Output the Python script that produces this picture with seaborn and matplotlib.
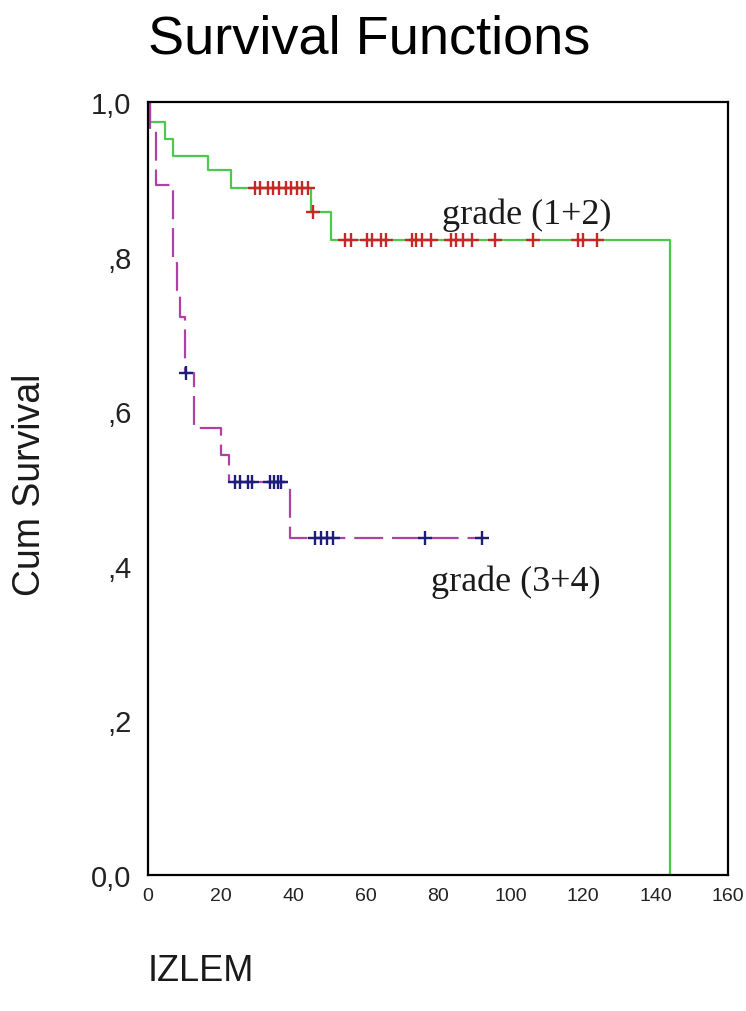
import numpy as np
import pandas as pd
import matplotlib
matplotlib.use("Agg")
import matplotlib.pyplot as plt
import seaborn as sns

# ---- data ----
# grade (1+2): step curve (time, cumulative survival) and censored times
g12_time = [0, 0.5, 4.7, 7.0, 16.5, 23.0, 45.0, 50.5, 144.0]
g12_surv = [1.0, 0.974, 0.952, 0.930, 0.912, 0.889, 0.858, 0.822, 0.0]
g12_cens = [29.5, 31.0, 33.0, 34.5, 36.0, 38.0, 39.5, 41.0, 42.5, 44.0,
            45.4,
            54.3, 55.9, 60.5, 61.7, 64.4, 65.6, 72.7, 73.9, 75.5, 78.1,
            83.5, 85.1, 87.0, 89.5, 95.7, 106.3, 118.7, 120.1, 123.8]

# grade (3+4)
g34_time = [0, 0.5, 2.2, 7.0, 7.9, 8.8, 10.2, 12.8, 20.1, 22.3, 39.2, 92.0]
g34_surv = [1.0, 0.963, 0.892, 0.792, 0.757, 0.722, 0.650, 0.578, 0.543,
            0.508, 0.436, 0.436]
g34_cens = [10.6, 24.0, 25.4, 27.7, 28.8, 33.7, 34.8, 35.9, 36.8,
            46.1, 47.6, 49.3, 50.9, 76.4, 92.0]

x_ticks = [0, 20, 40, 60, 80, 100, 120, 140, 160]
y_ticks = [0.0, 0.2, 0.4, 0.6, 0.8, 1.0]
y_labels = ["0,0", ",2", ",4", ",6", ",8", "1,0"]
title = "Survival Functions"
x_label = "IZLEM"
y_label = "Cum Survival"
label12 = "grade (1+2)"
label34 = "grade (3+4)"


def level_at(times, surv, t):
    idx = np.searchsorted(times, t, side="right") - 1
    return [surv[i] for i in idx]


sns.set_style("white")
plt.rcParams["font.family"] = ["Liberation Sans", "DejaVu Sans"]
plt.rcParams["text.color"] = "black"

fig = plt.figure(figsize=(7.46, 10.12), dpi=100)
ax = fig.add_axes([148 / 746, 1 - 876 / 1012, 580 / 746, 773 / 1012])

df12 = pd.DataFrame({"t": g12_time, "s": g12_surv})
df34 = pd.DataFrame({"t": g34_time, "s": g34_surv})
c12 = pd.DataFrame({"t": g12_cens, "s": level_at(g12_time, g12_surv, g12_cens)})
c34 = pd.DataFrame({"t": g34_cens, "s": level_at(g34_time, g34_surv, g34_cens)})

sns.lineplot(data=df12, x="t", y="s", ax=ax, estimator=None, sort=False,
             drawstyle="steps-post", color="#4cc94c", linewidth=1.6)
sns.lineplot(data=df34, x="t", y="s", ax=ax, estimator=None, sort=False,
             drawstyle="steps-post", color="#b040a8", linewidth=1.6,
             dashes=False, linestyle=(0, (13, 4)))
sns.scatterplot(data=c12, x="t", y="s", ax=ax, marker="+", s=115,
                color="#c62828", linewidth=1.7, zorder=5)
sns.scatterplot(data=c34, x="t", y="s", ax=ax, marker="+", s=115,
                color="#1e1e7a", linewidth=1.7, zorder=5)

ax.set_xlim(0, 160)
ax.set_ylim(0, 1.0)
ax.set_xticks(x_ticks)
ax.set_xticklabels([str(v) for v in x_ticks],
                   family=["Liberation Sans Narrow", "Liberation Sans", "DejaVu Sans"],
                   fontsize=14)
ax.set_yticks(y_ticks)
ax.set_yticklabels(y_labels, fontsize=21)
ax.tick_params(axis="y", direction="out", length=7, width=1.3, pad=5,
               colors="black", labelcolor="#222222")
ax.tick_params(axis="x", direction="out", length=3, width=1.3, pad=6,
               colors="black", labelcolor="#222222")
ax.set_xlabel("")
ax.set_ylabel("")
for sp in ax.spines.values():
    sp.set_visible(True)
    sp.set_color("black")
    sp.set_linewidth(1.6)

ax.text(81, 0.855, label12, family=["Liberation Serif", "DejaVu Serif"],
        fontsize=26, ha="left", va="center", color="#1a1a1a")
ax.text(78, 0.38, label34, family=["Liberation Serif", "DejaVu Serif"],
        fontsize=26, ha="left", va="center", color="#1a1a1a")

fig.text(369 / 746, 1 - 40 / 1012, title, fontsize=39, ha="center", va="center",
         color="black")
fig.text(30 / 746, 1 - 485 / 1012, y_label, fontsize=27, rotation=90,
         ha="center", va="center", color="#1a1a1a")
fig.text(148 / 746, 1 - 972 / 1012, x_label, fontsize=26, ha="left", va="center",
         color="#1a1a1a")

fig.savefig("out.png", dpi=100, facecolor="white")
